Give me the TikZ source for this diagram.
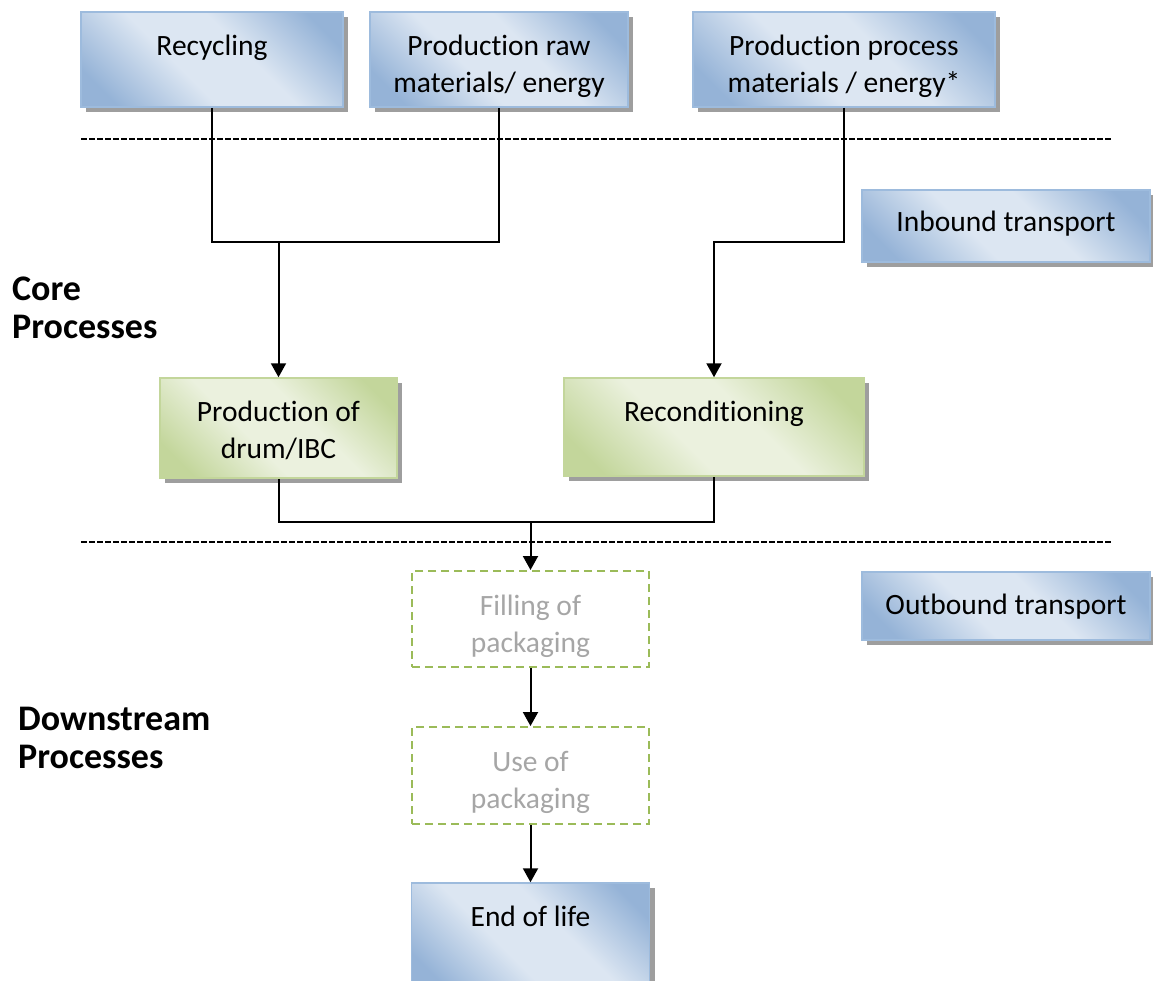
\documentclass[tikz,border=0pt]{standalone}
\usepackage{fontspec}
\setmainfont[Ligatures=NoCommon]{Carlito}
\usetikzlibrary{shadows,arrows.meta,calc}
\definecolor{bD}{HTML}{95B3D7}
\definecolor{bL}{HTML}{DCE6F2}
\definecolor{bB}{HTML}{9DBBDD}
\definecolor{gD}{HTML}{C3D69B}
\definecolor{gL}{HTML}{EBF1DE}
\definecolor{gB}{HTML}{C3D69B}
\definecolor{dG}{HTML}{9BBB59}
\definecolor{tG}{HTML}{A6A6A6}
\pgfdeclarehorizontalshading{blueshade}{100bp}{color(0bp)=(bD); color(22bp)=(bD); color(42bp)=(bL); color(58bp)=(bL); color(78bp)=(bD); color(100bp)=(bD)}
\pgfdeclarehorizontalshading{greenshade}{100bp}{color(0bp)=(gD); color(22bp)=(gD); color(42bp)=(gL); color(58bp)=(gL); color(78bp)=(gD); color(100bp)=(gD)}
\begin{document}
\begin{tikzpicture}[x=1pt,y=-1pt,
  boxbase/.style={rectangle, inner sep=0pt, line width=1.5pt},
  shadowed/.style={drop shadow={shadow xshift=5pt, shadow yshift=-5pt, fill=black!38, opacity=1}},
  bluebox/.style={boxbase, shadowed, draw=bB, shading=blueshade, shading angle=45},
  greenbox/.style={boxbase, shadowed, draw=gB, shading=greenshade, shading angle=45},
  dashbox/.style={boxbase, draw=dG, line width=2pt, dash pattern=on 8pt off 5pt, fill=white},
  txt/.style={font=\fontsize{29.5}{37}\selectfont, align=center, anchor=north, inner sep=0pt},
  graytxt/.style={txt, text=tG},
  conn/.style={line width=2pt, black},
  arr/.style={conn, -{Triangle[width=15pt,length=14pt]}},
  divider/.style={line width=1.3pt, dash pattern=on 5.5pt off 2.5pt},
  heading/.style={font=\fontsize{36}{38}\selectfont\bfseries, align=left, anchor=north west, inner sep=0pt}
]
\useasboundingbox (0,0) rectangle (1153,980);
\clip (0,0) rectangle (1153,980);

% dividers
\coordinate (d1a) at (81,139); \coordinate (d1b) at (1112,139);
\coordinate (d2a) at (81,542); \coordinate (d2b) at (1112,542);
\draw[divider] (d1a) -- (d1b);
\draw[divider] (d2a) -- (d2b);

% boxes
\node[bluebox, minimum width=262, minimum height=95] (rec) at (212,59.5) {};
\node[bluebox, minimum width=258, minimum height=95] (raw) at (499,59.5) {};
\node[bluebox, minimum width=302, minimum height=95] (proc) at (844,59.5) {};
\node[bluebox, minimum width=288, minimum height=72] (inb) at (1006,226) {};
\node[greenbox, minimum width=237, minimum height=100] (prod) at (278.5,428) {};
\node[greenbox, minimum width=300, minimum height=98] (recon) at (714,427) {};
\node[bluebox, minimum width=288, minimum height=68] (outb) at (1006,606) {};
\node[dashbox, minimum width=237, minimum height=96] (fill) at (530.5,619) {};
\node[dashbox, minimum width=237, minimum height=97] (use) at (530.5,775.5) {};
\node[bluebox, minimum width=238, minimum height=107] (eol) at (530.5,936.5) {};

% texts
\node[txt] (recT) at ($(rec.north)+(0,24)$) {Recycling};
\node[txt] (rawT) at ($(raw.north)+(0,24)$) {Production raw\\materials/ energy};
\node[txt] (procT) at ($(proc.north)+(0,24)$) {Production process\\materials / energy*};
\node[txt] (inbT) at ($(inb.north)+(0,22)$) {Inbound transport};
\node[txt] (prodT) at ($(prod.north)+(0,24)$) {Production of\\drum/IBC};
\node[txt] (reconT) at ($(recon.north)+(0,24)$) {Reconditioning};
\node[txt] (outbT) at ($(outb.north)+(0,23)$) {Outbound transport};
\node[graytxt] (fillT) at ($(fill.north)+(0,25)$) {Filling of\\packaging};
\node[graytxt] (useT) at ($(use.north)+(0,25)$) {Use of\\packaging};
\node[txt] (eolT) at ($(eol.north)+(0,24)$) {End of life};

% headings
\node[heading] (core) at (12,277) {Core\\Processes};
\node[heading] (down) at (18,707) {Downstream\\Processes};

% connectors
\coordinate (h1) at (0,242);
\coordinate (h2) at (0,522);
\draw[conn] (rec.south) -- (rec.south |- h1) -- (raw.south |- h1) -- (raw.south);
\coordinate (j1) at (prod.north |- h1);
\draw[arr] (j1) -- (prod.north);
\draw[arr] (proc.south) -- (proc.south |- h1) -- (recon.north |- h1) -- (recon.north);
\draw[conn] (prod.south) -- (prod.south |- h2) -- (recon.south |- h2) -- (recon.south);
\coordinate (j2) at (fill.north |- h2);
\draw[arr] (j2) -- (fill.north);
\draw[arr] (fill.south) -- (use.north);
\draw[arr] (use.south) -- (eol.north);
\end{tikzpicture}
\end{document}
